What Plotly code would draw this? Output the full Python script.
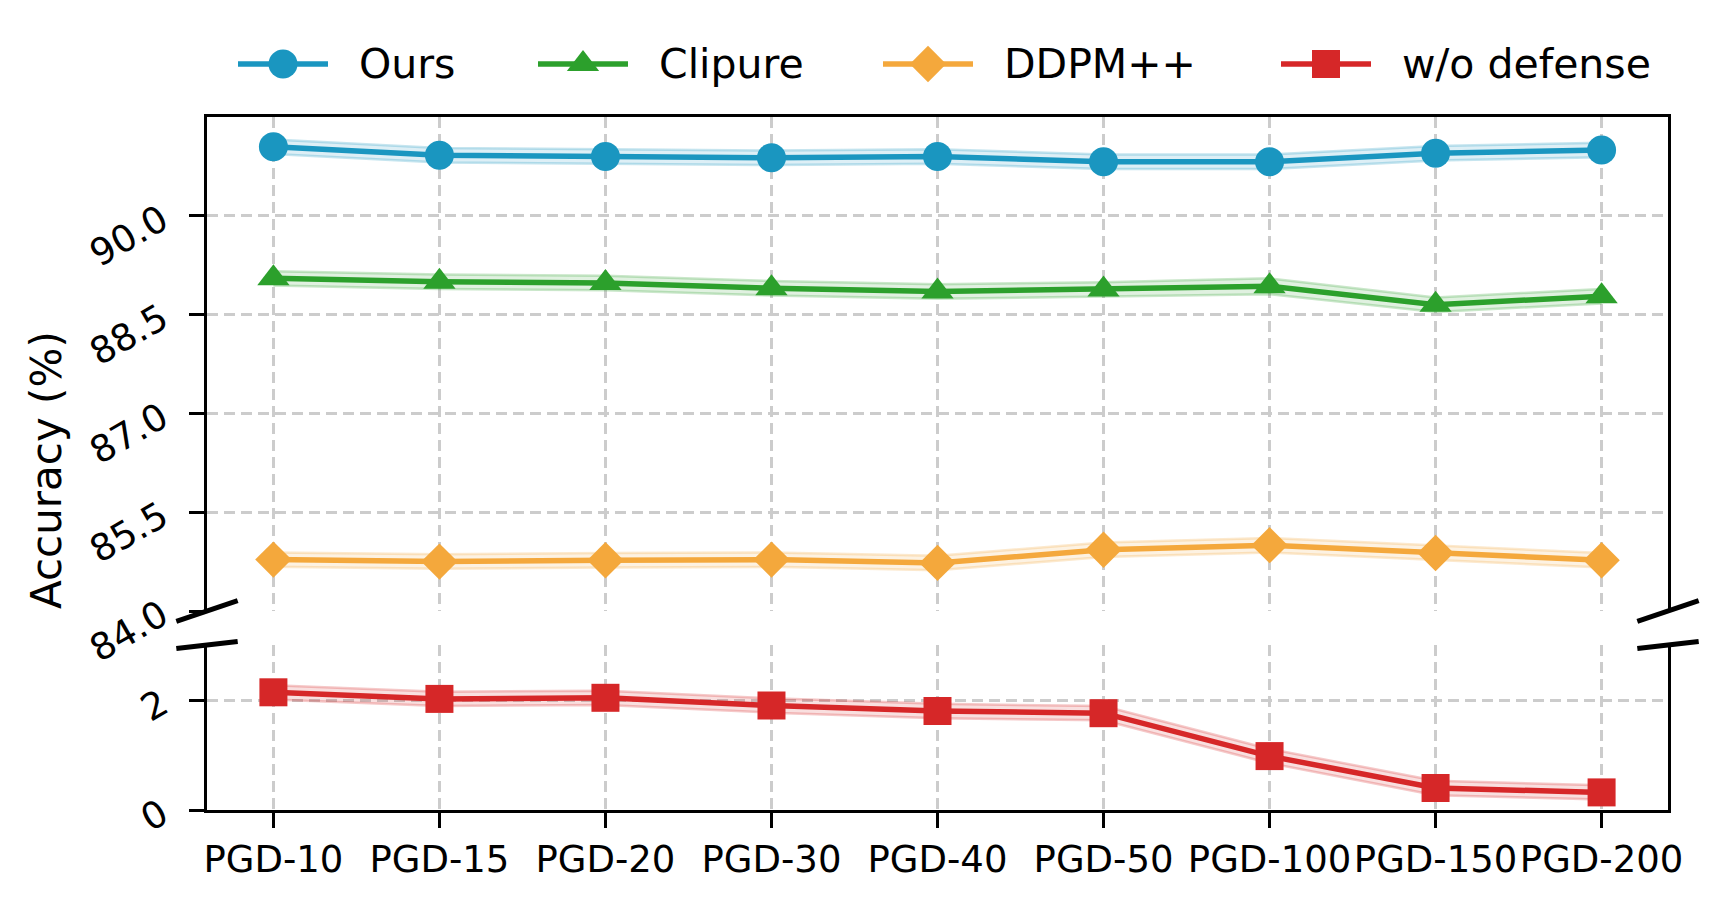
import plotly.graph_objects as go

categories = ["PGD-10", "PGD-15", "PGD-20", "PGD-30", "PGD-40", "PGD-50", "PGD-100", "PGD-150", "PGD-200"]

ours = [91.05, 90.92, 90.90, 90.88, 90.90, 90.82, 90.82, 90.95, 91.00]
ours_std = [0.11, 0.11, 0.11, 0.11, 0.11, 0.11, 0.11, 0.11, 0.11]
clipure = [89.05, 89.00, 88.98, 88.90, 88.85, 88.88, 88.93, 88.65, 88.78]
clipure_std = [0.11, 0.11, 0.11, 0.11, 0.11, 0.11, 0.12, 0.11, 0.11]
ddpm = [84.78, 84.75, 84.77, 84.78, 84.73, 84.93, 85.00, 84.88, 84.77]
ddpm_std = [0.11, 0.11, 0.11, 0.11, 0.11, 0.11, 0.11, 0.11, 0.11]
wo_def = [2.14, 2.02, 2.04, 1.90, 1.80, 1.76, 0.98, 0.40, 0.32]
wo_def_std = [0.13, 0.13, 0.13, 0.13, 0.13, 0.13, 0.13, 0.13, 0.13]

series_names = ["Ours", "Clipure", "DDPM++", "w/o defense"]
upper_ticks = [84.0, 85.5, 87.0, 88.5, 90.0]
lower_ticks = [0, 2]

FONT = "DejaVu Sans"
W, H = 1727, 905
OFF = 8  # page body margin of the browser
# target pixel layout (as seen in the page)
AX_L, AX_R, AX_B = 207, 1668, 810
UP_TOP, UP_BOT, LO_TOP = 117, 611, 645
LEG_TOP, LEG_BOT = 30, 100
ML = AX_L - OFF
MR = W - (AX_R - OFF)
MT = LEG_TOP - OFF
MB = H - (AX_B - OFF)
ph = AX_B - LEG_TOP


def fy(ypix):
    return (AX_B - ypix) / ph


upper_dom = [fy(UP_BOT), fy(UP_TOP)]
lower_dom = [0.0, fy(LO_TOP)]
leg_dom = [fy(LEG_BOT), 1.0]

styles = [
    ("#1a96c0", "26,150,192", "circle", 29, "upper"),
    ("#2ca02c", "44,160,44", "triangle-up", 28, "upper"),
    ("#f4a83c", "244,168,60", "diamond", 28, "upper"),
    ("#d62728", "214,39,40", "square", 28, "lower"),
]
values = [ours, clipure, ddpm, wo_def]
stds = [ours_std, clipure_std, ddpm_std, wo_def_std]

fig = go.Figure()
xi = list(range(len(categories)))

# shaded bands
for vals, std, (col, rgb, sym, ms, ax) in zip(values, stds, styles):
    xa, ya = ("x2", "y2") if ax == "upper" else ("x", "y")
    lo = [v - s for v, s in zip(vals, std)]
    hi = [v + s for v, s in zip(vals, std)]
    fig.add_trace(go.Scatter(x=xi, y=lo, mode="lines", xaxis=xa, yaxis=ya,
                             line=dict(color=f"rgba({rgb},0.25)", width=2.5),
                             showlegend=False, hoverinfo="skip"))
    fig.add_trace(go.Scatter(x=xi, y=hi, mode="lines", xaxis=xa, yaxis=ya, fill="tonexty",
                             fillcolor=f"rgba({rgb},0.15)",
                             line=dict(color=f"rgba({rgb},0.25)", width=2.5),
                             showlegend=False, hoverinfo="skip"))

# main lines
for name, vals, (col, rgb, sym, ms, ax) in zip(series_names, values, styles):
    xa, ya = ("x2", "y2") if ax == "upper" else ("x", "y")
    fig.add_trace(go.Scatter(x=xi, y=vals, mode="lines+markers", name=name, xaxis=xa, yaxis=ya,
                             line=dict(color=col, width=5.5),
                             marker=dict(symbol=sym, size=ms, color=col, line=dict(width=0)),
                             showlegend=False))

# legend keys (drawn on a dedicated pixel-scaled axis above the plot)
leg_line_x = [238, 538, 883, 1281]
leg_line_len = 90
leg_text_gap = 29
leg_y = 64
for name, lx, (col, rgb, sym, ms, ax) in zip(series_names, leg_line_x, styles):
    fig.add_trace(go.Scatter(x=[lx, lx + leg_line_len], y=[leg_y, leg_y], mode="lines",
                             xaxis="x3", yaxis="y3", line=dict(color=col, width=5.5),
                             showlegend=False, hoverinfo="skip"))
    fig.add_trace(go.Scatter(x=[lx + leg_line_len / 2], y=[leg_y], mode="markers",
                             xaxis="x3", yaxis="y3",
                             marker=dict(symbol=sym, size=ms, color=col, line=dict(width=0)),
                             showlegend=False, hoverinfo="skip"))
    fig.add_annotation(text=name, x=lx + leg_line_len + leg_text_gap, y=leg_y, xref="x3", yref="y3",
                       xanchor="left", yanchor="middle", showarrow=False,
                       font=dict(size=41, family=FONT, color="black"))

grid = dict(showgrid=True, gridcolor="#cccccc", gridwidth=2.5, griddash="11px,6px")
xcommon = dict(range=[-0.4, len(categories) - 1 + 0.4], tickmode="array", tickvals=xi,
               zeroline=False, **grid)
ycommon = dict(showline=True, mirror=True, linecolor="black", linewidth=3, tickangle=-30,
               ticks="outside", ticklen=15, tickwidth=3, tickcolor="black", ticklabelstandoff=20,
               tickfont=dict(size=37), zeroline=False, **grid)

fig.update_layout(
    width=W, height=H,
    margin=dict(l=ML, r=MR, t=MT, b=MB),
    paper_bgcolor="white", plot_bgcolor="white",
    font=dict(family=FONT, size=37, color="black"),
    showlegend=False,
    xaxis=dict(domain=[0, 1], anchor="y", ticktext=categories, showline=True, linecolor="black",
               linewidth=3, ticks="outside", ticklen=15, tickwidth=3, tickcolor="black",
               tickfont=dict(size=37), **xcommon),
    xaxis2=dict(domain=[0, 1], anchor="y2", side="top", showticklabels=False, ticks="",
                showline=True, linecolor="black", linewidth=3, **xcommon),
    yaxis=dict(domain=lower_dom, anchor="x", range=[0, 3], tickmode="array", tickvals=lower_ticks,
               ticktext=[str(t) for t in lower_ticks], **ycommon),
    yaxis2=dict(domain=upper_dom, anchor="x2", range=[84, 91.5], tickmode="array", tickvals=upper_ticks,
                ticktext=[f"{t:.1f}" for t in upper_ticks], **ycommon),
    xaxis3=dict(domain=[0, 1], anchor="y3", range=[AX_L, AX_R], visible=False, fixedrange=True),
    yaxis3=dict(domain=leg_dom, anchor="x3", range=[LEG_BOT, LEG_TOP], visible=False, fixedrange=True),
)

fig.add_annotation(text="Accuracy (%)", xref="paper", yref="paper", x=(46 - AX_L) / (AX_R - AX_L),
                   y=fy(470), xanchor="center", yanchor="middle", textangle=-90, showarrow=False,
                   font=dict(size=42, family=FONT, color="black"))

# axis break marks
d = 0.021
uh = upper_dom[1] - upper_dom[0]
lh = lower_dom[1] - lower_dom[0]
for xc in (0.0, 1.0):
    yc = upper_dom[0]
    fig.add_shape(type="line", xref="paper", yref="paper", x0=xc - d, x1=xc + d,
                  y0=yc - d * uh, y1=yc + d * uh, line=dict(color="black", width=5))
    yc = lower_dom[1]
    fig.add_shape(type="line", xref="paper", yref="paper", x0=xc - d, x1=xc + d,
                  y0=yc - d * lh, y1=yc + d * lh, line=dict(color="black", width=5))

fig.write_html("out.html")
